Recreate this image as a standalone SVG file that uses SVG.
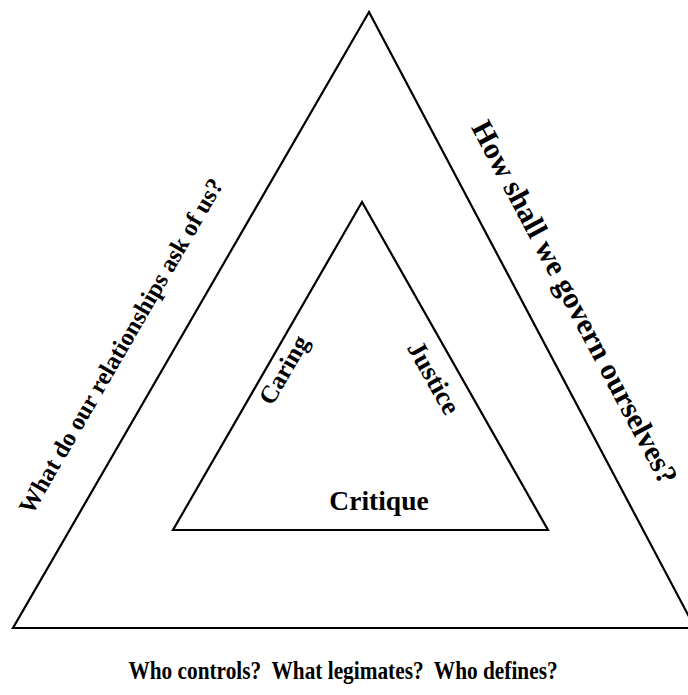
<svg xmlns="http://www.w3.org/2000/svg" width="688" height="695" viewBox="0 0 688 695">
  <style>
    .edge { fill: none; stroke: #000; stroke-width: 2.2; stroke-linejoin: miter; }
    .lbl { font-family: "Liberation Serif", "Times New Roman", serif; font-weight: bold; fill: #000; }
  </style>
  <rect width="688" height="695" fill="#fff"/>

  <!-- triangle outlines -->
  <g id="connectors">
    <polygon id="outer-triangle" class="edge" points="369,12 13,628 695,628"/>
    <polygon id="inner-triangle" class="edge" points="362,202 173,530 548,530"/>
  </g>

  <!-- outer side questions -->
  <g id="relationships">
    <text class="lbl" font-size="24.5" text-anchor="middle" transform="translate(128,350) rotate(-59.9)">What do our relationships ask of us?</text>
  </g>
  <g id="governance">
    <text class="lbl" font-size="30" text-anchor="middle" transform="translate(566,307) rotate(62.1)">How shall we govern ourselves?</text>
  </g>
  <g id="power">
    <text class="lbl" font-size="26" text-anchor="middle" transform="translate(343,679) scale(0.82,1)" xml:space="preserve">Who controls?  What legimates?  Who defines?</text>
  </g>

  <!-- inner side labels -->
  <g id="caring">
    <text class="lbl" font-size="25" text-anchor="middle" transform="translate(291,374) rotate(-60.1)">Caring</text>
  </g>
  <g id="justice">
    <text class="lbl" font-size="27" text-anchor="middle" transform="translate(426,382) rotate(60.5)">Justice</text>
  </g>
  <g id="critique">
    <text class="lbl" font-size="27.5" text-anchor="middle" x="379" y="510">Critique</text>
  </g>
</svg>
